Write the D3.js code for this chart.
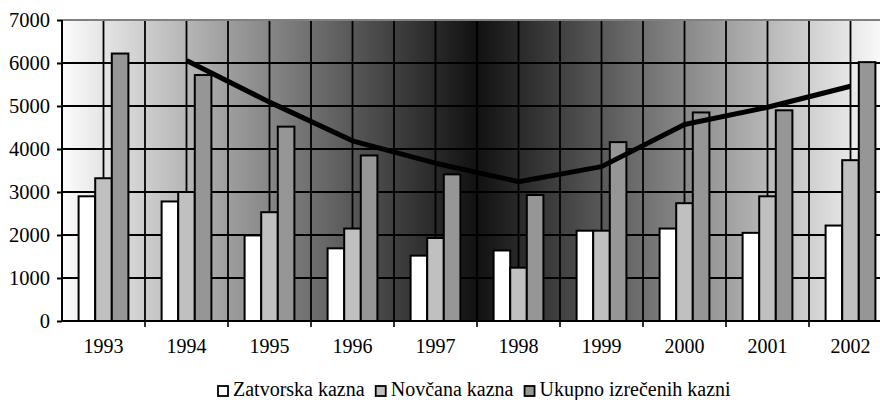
<!DOCTYPE html>
<html><head><meta charset="utf-8">
<script src="https://cdn.jsdelivr.net/npm/d3@7"></script>
<style>body{margin:0;background:#fff}</style>
</head><body><svg id="c" width="880" height="400"></svg>
<script>
const years = ["1993","1994","1995","1996","1997","1998","1999","2000","2001","2002"];
const zatvorska = [2900,2780,1990,1690,1520,1640,2100,2150,2050,2220];
const novcana = [3320,3000,2530,2150,1930,1240,2100,2740,2900,3740];
const ukupno = [6220,5720,4520,3850,3410,2930,4160,4850,4900,6020];
const trend = [null,6060,5090,4190,3670,3240,3590,4570,4970,5460];
const yTicks = [0,1000,2000,3000,4000,5000,6000,7000];
const seriesNames = ["Zatvorska kazna","Novčana kazna","Ukupno izrečenih kazni"];
const seriesColors = ["#ffffff","#c0c0c0","#969696"];

const svg = d3.select("#c");
const L = 62, R = 892, T = 20, B = 321;
const FONT = "'Liberation Serif'";

const x = d3.scaleBand().domain(years).range([L, R]).padding(0);
const xs = d3.scaleBand().domain([0,1,2]).range([0, x.bandwidth()]).paddingInner(0).paddingOuter(1);
const y = d3.scaleLinear().domain([0,7000]).range([B, T]);

// gradient background
const defs = svg.append("defs");
const g = defs.append("linearGradient").attr("id","bg").attr("gradientUnits","userSpaceOnUse")
  .attr("x1", L).attr("x2", R).attr("y1",0).attr("y2",0);
g.append("stop").attr("offset","0").attr("stop-color","#fcfcfc");
g.append("stop").attr("offset","0.5").attr("stop-color","#111");
g.append("stop").attr("offset","1").attr("stop-color","#ffffff");
svg.append("rect").attr("x",L).attr("y",T).attr("width",R-L).attr("height",B-T).attr("fill","url(#bg)");

// gridlines
const vlines = [];
years.forEach(d => { vlines.push(x(d)); vlines.push(x(d)+x.bandwidth()/2); });
svg.append("g").selectAll("line").data(vlines.filter(v => v > L)).join("line")
  .attr("x1", d=>d).attr("x2", d=>d).attr("y1", T).attr("y2", B)
  .attr("stroke","#000").attr("stroke-width",1.8);
svg.append("g").selectAll("line").data(yTicks.filter(v => v > 0 && v < 7000)).join("line")
  .attr("x1", L).attr("x2", R).attr("y1", d=>y(d)).attr("y2", d=>y(d))
  .attr("stroke","#000").attr("stroke-width",1.8);
svg.append("line").attr("x1",L).attr("x2",R).attr("y1",T).attr("y2",T)
  .attr("stroke","#808080").attr("stroke-width",2);

// bars
const series = [zatvorska, novcana, ukupno];
series.forEach((vals, si) => {
  svg.append("g").selectAll("rect").data(years).join("rect")
    .attr("x", (d) => x(d) + xs(si))
    .attr("y", (d,i) => y(vals[i]))
    .attr("width", xs.bandwidth())
    .attr("height", (d,i) => B - y(vals[i]))
    .attr("fill", seriesColors[si])
    .attr("stroke","#000").attr("stroke-width",2);
});

// trend line
const line = d3.line()
  .defined(d => d.v != null)
  .x(d => x(d.year) + x.bandwidth()/2)
  .y(d => y(d.v));
svg.append("path").datum(years.map((yr,i)=>({year:yr, v:trend[i]})))
  .attr("d", line).attr("fill","none").attr("stroke","#000").attr("stroke-width",5)
  .attr("stroke-linejoin","round");

// axes
const yAxis = svg.append("g").attr("transform",`translate(${L},0)`)
  .call(d3.axisLeft(y).tickValues(yTicks).tickSize(5).tickPadding(7).tickFormat(d3.format("d")));
yAxis.select(".domain").attr("stroke","#000").attr("stroke-width",2).attr("d",`M0,${T}V${B}`);
yAxis.selectAll(".tick line").attr("stroke","#000").attr("stroke-width",2);
yAxis.selectAll("text").style("font-family",FONT).style("font-size","20.5px").attr("fill","#000");

const xAxis = svg.append("g").attr("transform",`translate(0,${B})`)
  .call(d3.axisBottom(x).tickSize(0).tickPadding(18));
xAxis.select(".domain").attr("stroke","#000").attr("stroke-width",2).attr("d",`M${L},0H${R}`);
xAxis.selectAll("text").style("font-family",FONT).style("font-size","20px").attr("fill","#000");
svg.append("g").selectAll("line").data(years.slice(1).map(d=>x(d)).concat([R])).join("line")
  .attr("x1",d=>d).attr("x2",d=>d).attr("y1",B).attr("y2",B+6)
  .attr("stroke","#000").attr("stroke-width",1.6);

// legend
const leg = svg.append("g");
let lx = 218;
const items = leg.selectAll("g").data(seriesNames).join("g");
items.append("rect").attr("x",0).attr("y",-10).attr("width",10).attr("height",10)
  .attr("fill",(d,i)=>seriesColors[i]).attr("stroke","#000").attr("stroke-width",1.8);
items.append("text").attr("x",15).attr("y",0).text(d=>d)
  .style("font-family",FONT).style("font-size","20px").attr("fill","#000");
items.each(function(){
  const w = this.getBBox().width;
  d3.select(this).attr("transform",`translate(${lx},396)`);
  lx += w + 11;
});
</script></body></html>
